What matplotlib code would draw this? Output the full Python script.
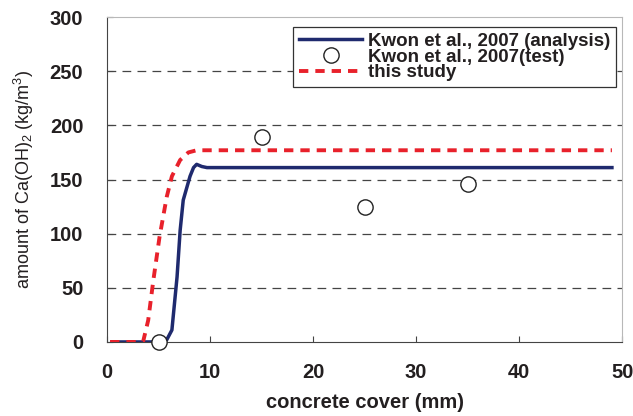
import matplotlib
matplotlib.use('Agg')
import matplotlib.pyplot as plt

plt.rcParams['font.family'] = ['Liberation Sans', 'DejaVu Sans']
plt.rcParams['mathtext.fontset'] = 'custom'
plt.rcParams['mathtext.rm'] = 'Liberation Sans'
plt.rcParams['mathtext.it'] = 'Liberation Sans'

# Kwon et al., 2007 (analysis)
ana_x = [0.5, 5.0, 5.8, 6.3, 6.8, 7.1, 7.4, 8.06, 8.4, 8.7, 9.2, 9.7, 20, 30, 40, 49]
ana_y = [0, 0, 2, 11, 60, 103, 131, 153, 161, 164, 162, 161, 161, 161, 161, 161]

# Kwon et al., 2007 (test)
test_x = [5, 15, 25, 35]
test_y = [0, 189, 125, 146]

# this study
st_x = [0.3, 3.5, 4.0, 4.5, 5.1, 5.8, 6.3, 7.1, 7.9, 8.7, 10, 20, 30, 40, 49]
st_y = [0, 0, 20, 57, 97, 134, 153, 168, 175, 177, 177, 177, 177, 177, 177]

fig = plt.figure(figsize=(6.33, 4.16), dpi=100)
ax = fig.add_axes([0.169, 0.178, 0.814, 0.781])

for yv in [50, 100, 150, 200, 250]:
    ax.axhline(yv, color='#444444', lw=0.9, dashes=(7, 5), zorder=1)

ax.plot(ana_x, ana_y, color='#1f2a6e', lw=2.5, label='Kwon et al., 2007 (analysis)', zorder=3)
ax.plot(test_x, test_y, 'o', ms=11, mfc='white', mec='#222222', mew=1.0,
        label='Kwon et al., 2007(test)', zorder=4, clip_on=False)
ax.plot(st_x, st_y, color='#e8212b', lw=2.8, dashes=(2.4, 1.8), label='this study', zorder=3)

ax.set_xlim(0, 50)
ax.set_ylim(0, 300)
ax.set_xticks(range(0, 51, 10))
ax.set_yticks(range(0, 301, 50))
ax.tick_params(axis='both', direction='in', length=4, width=0.8, color='#444444',
               labelsize=14.5)
ax.tick_params(axis='x', pad=15)
ax.tick_params(axis='y', pad=17)
for lab in ax.get_xticklabels() + ax.get_yticklabels():
    lab.set_fontweight('bold')
    lab.set_color('#231f20')

ax.spines['left'].set_color('#444444')
ax.spines['bottom'].set_color('#444444')
ax.spines['top'].set_color('#b8b8b8')
ax.spines['right'].set_color('#b8b8b8')

ax.set_xlabel('concrete cover (mm)', fontsize=14.5, fontweight='bold', color='#231f20', labelpad=8)
ax.set_ylabel('amount of Ca(OH)$_2$ (kg/m$^3$)', fontsize=13, color='#231f20', labelpad=10)

leg = ax.legend(loc='upper right', bbox_to_anchor=(0.995, 0.98),
                prop={'weight': 'bold', 'size': 13.5}, frameon=True, fancybox=False,
                edgecolor='#333333', framealpha=1, handlelength=3.4, handletextpad=0.3,
                labelspacing=-0.08, borderpad=0.3, borderaxespad=0.2)
leg.get_frame().set_linewidth(0.9)
for t in leg.get_texts():
    t.set_color('#231f20')

fig.savefig('out.png', dpi=100)
